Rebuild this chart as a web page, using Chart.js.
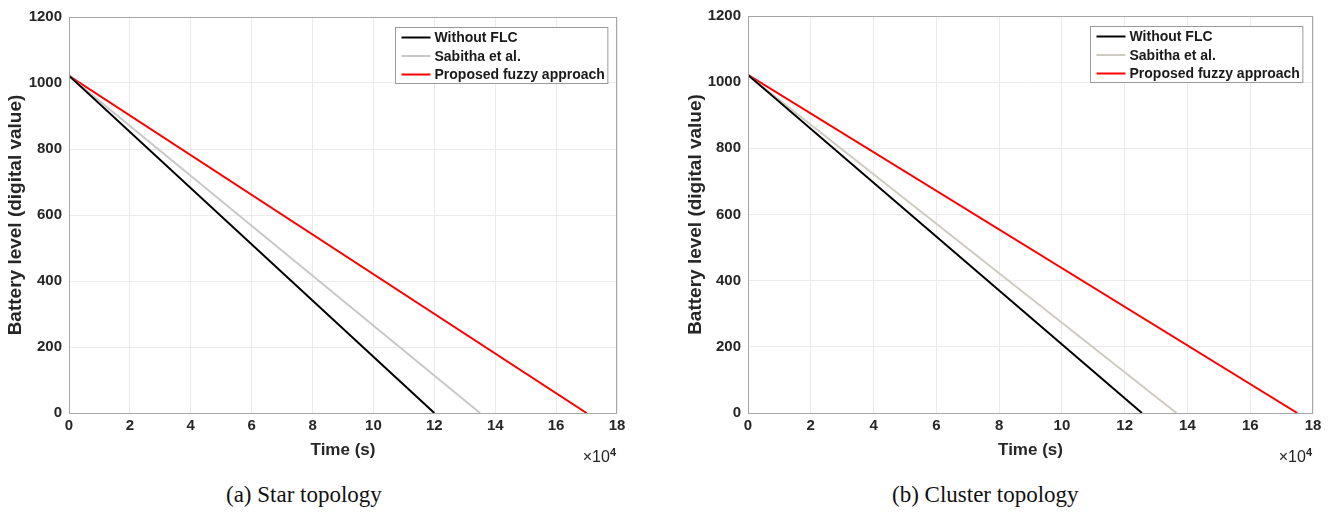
<!DOCTYPE html>
<html>
<head>
<meta charset="utf-8">
<script src="https://cdn.jsdelivr.net/npm/chart.js@4.4.1/dist/chart.umd.min.js"></script>
<style>
  body { margin: 0; background: #fff; width: 1332px; height: 517px; position: relative; overflow: hidden; }
  .panel { position: absolute; top: 0; height: 470px; }
  .caption { position: absolute; top: 482px; font-family: "Liberation Serif", "Times New Roman", serif; font-size: 23px; color: #111; }
</style>
</head>
<body>
<div class="panel" style="left:0; width:640px;"><canvas id="starChart"></canvas></div>
<div class="panel" style="left:680px; width:650px;"><canvas id="clusterChart"></canvas></div>
<div class="caption" style="left:226px;">(a) Star topology</div>
<div class="caption" style="left:892px;">(b) Cluster topology</div>
<script>
// series names
const seriesNames = ['Without FLC', 'Sabitha et al.', 'Proposed fuzzy approach'];

// star topology: time (s) and battery level (digital value)
const starTime = [
    [0, 120000],
    [0, 135000],
    [0, 170000]
];
const starLevel = [
    [1022, 0],
    [1021, 0],
    [1022, 0]
];

// cluster topology
const clusterTime = [
    [0, 125500],
    [0, 136500],
    [0, 175000]
];
const clusterLevel = [
    [1022, 0],
    [1021, 0],
    [1022, 0]
];

const xTicks = [0, 2, 4, 6, 8, 10, 12, 14, 16, 18];   // x 10^4
const yTicks = [0, 200, 400, 600, 800, 1000, 1200];

const narrow = '"Liberation Sans Narrow", "Arial Narrow", "Liberation Sans", Arial, sans-serif';
const wide = '"Liberation Sans", Arial, sans-serif';

// draws the box round the axes, the legend box and the x10^4 label
const matlabBox = {
    id: 'matlabBox',
    afterDraw(chart, args, opts) {
        const ctx = chart.ctx;
        const a = chart.chartArea;
        ctx.save();
        ctx.strokeStyle = '#a6a6a6';
        ctx.lineWidth = 1;
        ctx.strokeRect(a.left + 0.5, a.top + 0.5, a.right - a.left - 1, a.bottom - a.top);

        // legend
        ctx.font = 'bold 14px ' + narrow;
        let tw = 0;
        seriesNames.forEach(n => { tw = Math.max(tw, ctx.measureText(n).width); });
        const boxW = 6 + 29 + 4 + tw + 3;
        const boxH = 56;
        const bx = Math.round(a.right - opts.rightInset - boxW) + 0.5;
        const by = Math.round(a.top + opts.topInset) + 0.5;
        ctx.fillStyle = '#fff';
        ctx.fillRect(bx, by, boxW, boxH);
        ctx.strokeStyle = '#9a9a9a';
        ctx.strokeRect(bx, by, boxW, boxH);
        chart.data.datasets.forEach((ds, i) => {
            const cy = by + 10 + i * 18.5;
            ctx.strokeStyle = ds.borderColor;
            ctx.lineWidth = 2;
            ctx.beginPath();
            ctx.moveTo(bx + 6, cy);
            ctx.lineTo(bx + 35, cy);
            ctx.stroke();
            ctx.fillStyle = '#1a1a1a';
            ctx.textBaseline = 'middle';
            ctx.textAlign = 'left';
            ctx.fillText(ds.label, bx + 39, cy + 1);
        });

        // x10^4 exponent label
        ctx.fillStyle = '#262626';
        ctx.textBaseline = 'alphabetic';
        ctx.textAlign = 'right';
        ctx.font = 'bold 11px ' + narrow;
        ctx.fillText('4', a.right - 1, a.bottom + 43);
        const w4 = ctx.measureText('4').width;
        ctx.font = '16px ' + narrow;
        ctx.fillText('\u00d710', a.right - 1 - w4, a.bottom + 49);
        ctx.restore();
    }
};

function makeChart(id, times, levels, grayColor, opts) {
    const colors = ['#000000', grayColor, '#ff0000'];
    const datasets = seriesNames.map((name, i) => ({
        label: name,
        data: times[i].map((t, k) => ({ x: t, y: levels[i][k] })),
        borderColor: colors[i],
        backgroundColor: colors[i],
        borderWidth: 2,
        showLine: true,
        pointRadius: 0,
        fill: false
    }));
    return new Chart(document.getElementById(id).getContext('2d'), {
        type: 'scatter',
        data: { datasets: datasets },
        plugins: [matlabBox],
        options: {
            responsive: false,
            animation: false,
            layout: { padding: { left: 0, top: opts.top, right: opts.right, bottom: 0 } },
            plugins: {
                legend: { display: false },
                tooltip: { enabled: false },
                matlabBox: { rightInset: opts.legRight, topInset: 10 }
            },
            scales: {
                x: {
                    type: 'linear',
                    min: 0,
                    max: 180000,
                    afterBuildTicks: s => { s.ticks = xTicks.map(v => ({ value: v * 10000 })); },
                    afterFit: s => { s.height = 57; },
                    ticks: {
                        callback: v => String(v / 10000),
                        color: '#262626',
                        font: { family: narrow, size: 15, weight: 'bold' },
                        padding: 4,
                        maxRotation: 0
                    },
                    grid: { color: '#ebebeb', drawTicks: false },
                    border: { display: false },
                    title: {
                        display: true,
                        text: 'Time (s)',
                        color: '#262626',
                        font: { family: narrow, size: 17, weight: 'bold' },
                        padding: { top: 0, bottom: 9 }
                    }
                },
                y: {
                    min: 0,
                    max: 1200,
                    afterBuildTicks: s => { s.ticks = yTicks.map(v => ({ value: v })); },
                    afterFit: s => { s.width = opts.yWidth; },
                    ticks: {
                        callback: v => String(v),
                        color: '#262626',
                        font: { family: narrow, size: 15, weight: 'bold' },
                        padding: 7
                    },
                    grid: { color: '#ebebeb', drawTicks: false },
                    border: { display: false },
                    title: {
                        display: true,
                        text: 'Battery level (digital value)',
                        color: '#262626',
                        font: { family: wide, size: 19, weight: 'bold' },
                        padding: { bottom: 0 }
                    }
                }
            }
        }
    });
}

function sizeCanvas(id, w, h) {
    const c = document.getElementById(id);
    c.width = w; c.height = h;
    c.style.width = w + 'px'; c.style.height = h + 'px';
}

sizeCanvas('starChart', 640, 470);
sizeCanvas('clusterChart', 650, 470);
makeChart('starChart', starTime, starLevel, '#c8c8c8', { top: 17, right: 23, yWidth: 69, legRight: 10 });
makeChart('clusterChart', clusterTime, clusterLevel, '#cfcbc3', { top: 16, right: 17, yWidth: 68, legRight: 11 });
</script>
</body>
</html>
